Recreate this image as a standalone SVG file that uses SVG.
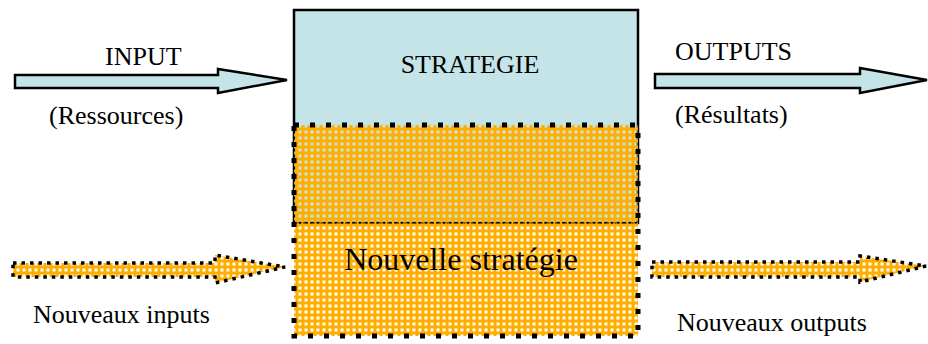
<svg xmlns="http://www.w3.org/2000/svg" width="928" height="344" viewBox="0 0 928 344">
<defs>
<pattern id="chk" width="6" height="6" patternUnits="userSpaceOnUse">
<rect x="0" y="1.5" width="6" height="3" fill="#FFAE00"/>
<rect x="1.5" y="0" width="3" height="6" fill="#FFAE00"/>
</pattern>
<style>
.t{font-size:26px}
.blue{fill:#C5E4E8;stroke:#000;stroke-width:2.5}
.smalldots{fill:url(#chk);stroke:#000;stroke-width:3.5;stroke-dasharray:3.5 5}
</style>
</defs>
<rect width="928" height="344" fill="#fff"/>
<g id="strategie">
<rect class="blue" x="294" y="10" width="344" height="213"/>
<text class="t" x="470" y="73" text-anchor="middle" font-family="'Liberation Serif', 'Times New Roman', serif">STRATEGIE</text>
</g>
<g id="nouvelle-strategie">
<rect x="294" y="125" width="344" height="211" fill="url(#chk)"/>
<line x1="296" y1="223" x2="636" y2="223" stroke="#000" stroke-width="1" stroke-dasharray="1.5 2"/>
<rect x="294" y="125" width="344" height="211" fill="none" stroke="#000" stroke-width="5" stroke-dasharray="5 11"/>
<text x="461" y="270" font-size="32" text-anchor="middle" font-family="'Liberation Serif', 'Times New Roman', serif">Nouvelle stratégie</text>
</g>
<g id="connectors">
<path class="blue" d="M15 75 H218 V69 L287 80 L218 93 V88 H15 Z"/>
<path class="blue" d="M655 74 H860 V68 L927 80 L860 93 V88 H655 Z"/>
<path class="smalldots" d="M13 263 H215 V255 L285 267 L215 283 V277 H13 Z"/>
<path class="smalldots" d="M652 262 H860 V256 L926 266 L860 282 V277 H652 Z"/>
</g>
<g id="labels" font-family="'Liberation Serif', 'Times New Roman', serif">
<text class="t" x="105" y="65">INPUT</text>
<text class="t" x="49" y="124">(Ressources)</text>
<text class="t" x="675" y="60">OUTPUTS</text>
<text class="t" x="675" y="123">(Résultats)</text>
<text class="t" x="33" y="323">Nouveaux inputs</text>
<text class="t" x="677" y="331">Nouveaux outputs</text>
</g>
</svg>
